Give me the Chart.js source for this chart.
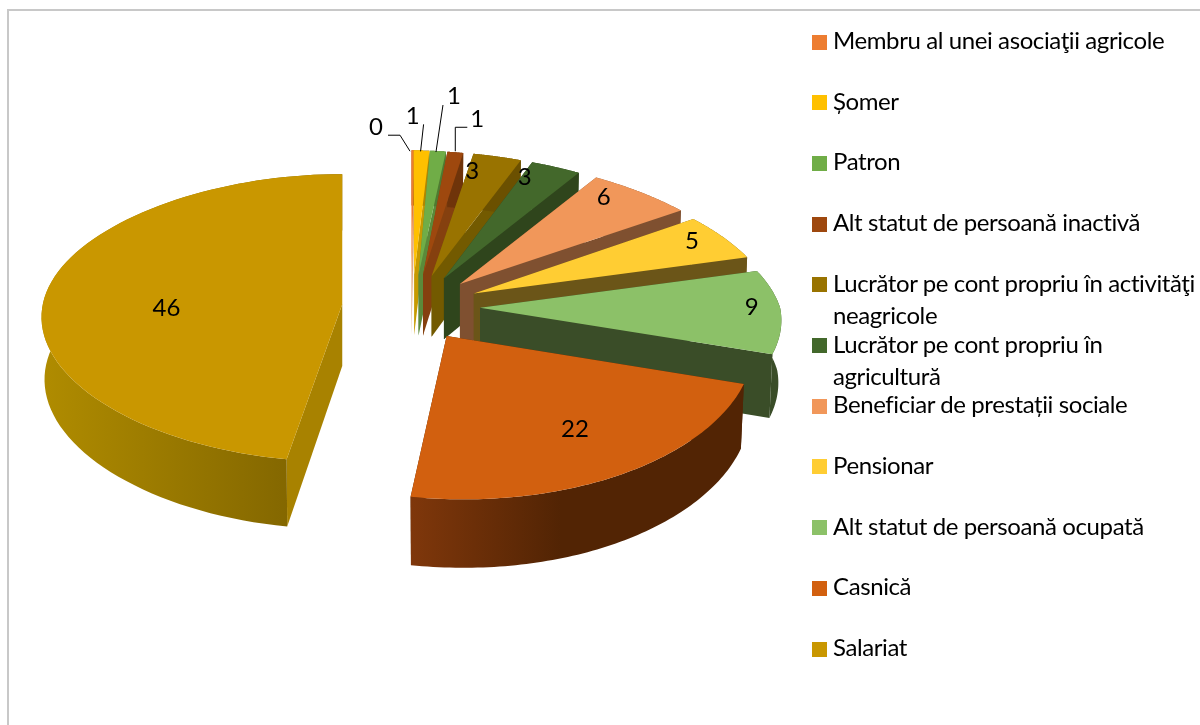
<!DOCTYPE html>
<html>
<head>
<meta charset="utf-8">
<script src="https://cdn.jsdelivr.net/npm/chart.js@4"></script>
<style>
    body { margin: 0; background: #fff; overflow: hidden; font-family: Lato, sans-serif; }
    #wrap { position: relative; width: 1200px; height: 725px; overflow: hidden; }
    #frame { position: absolute; left: 7px; top: 9px; right: -4px; bottom: -4px; border: 2px solid #c8c8c8; }
    canvas { position: absolute; left: 0; top: 0; }
    .item { position: absolute; left: 812px; color: #000; font-size: 24px; line-height: 32px; letter-spacing: -0.4px; white-space: pre; }
    .item i { position: absolute; left: 0; top: 9px; width: 15px; height: 15px; }
    .item span { position: absolute; left: 21px; top: -1.5px; }
</style>
</head>
<body>
<div id="wrap">
    <div id="frame"></div>
    <canvas id="chart" width="1200" height="725"></canvas>
</div>
<script>
const categories = ['Membru al unei asociaţii agricole', 'Șomer', 'Patron', 'Alt statut de persoană inactivă',
    'Lucrător pe cont propriu în activităţi\nneagricole', 'Lucrător pe cont propriu în\nagricultură',
    'Beneficiar de prestații sociale', 'Pensionar', 'Alt statut de persoană ocupată', 'Casnică', 'Salariat'];
// first one shows as 0 on the label but still has a thin sliver
const values = [0.2, 1, 1, 1, 3, 3, 6, 5, 9, 22, 46];
const colors = ['#ed7d31', '#ffc000', '#70ad47', '#9e480e', '#997300', '#43682b',
    '#f1975a', '#ffcd33', '#8cc168', '#d2600f', '#c99700'];

// side colours of the 3D look
const faceColors = ['#e0a880', '#c79a00', '#5b8a3a', '#85400f', '#735a00', '#2f451c',
    '#7f5030', '#6b5518', '#3a4d28', '#522404', '#a88200'];
const wallLeft = ['#b05a20', '#b08600', '#4f7a31', '#6f340a', '#6b5000', '#2f451c',
    '#7f5030', '#6b5518', '#3a4d28', '#7f370b', '#b08c00'];
const wallRight = ['#b05a20', '#b08600', '#4f7a31', '#6f340a', '#6b5000', '#2f451c',
    '#7f5030', '#6b5518', '#3a4d28', '#522404', '#7a5f00'];
const wallStop = [1, 1, 1, 1, 1, 1, 1, 1, 1, 0.45, 1];
const farSkew = [0, 0.012, 0.025, 0.035, 0.03, 0.035, 0.035, 0.06, 0.06, 0, 0];
const nearSkew = [0, 0, 0, 0, 0, 0, 0, 0, 0, 0.057, -0.01];

// label position relative to the outer middle of the slice
const labelNudge = [[-37, -23], [-9, -34], [16, -55], [22, -33], [-25, 15], [-31, 10],
    [-37, 5], [-31, 4], [-29, -4], [-47, -45], [120, 16]];
// leader lines, relative to the label
const leaders = [[[12, 8], [24, 8], [34, 24]], [[11, 8], [8, 35]], [[-11, 9], [-18, 56]],
    [[-10, 8], [-22, 8], [-22, 32]], null, null, null, null, null, null, null];

const legendFirstRow = 41.5;
const legendRowGap = 60.7;
const baseShrink = 0.99;

// fake perspective: v is the distance "into" the picture
function scaleAt(v) {
    return 1 - 0.000317 * v - 0.0000005 * v * v;
}
function screenY(base, v) {
    return base - 0.481 * v + 0.000152 * v * v;
}
function depthAt(v) {
    return 62 - 0.018 * v;
}

function slicePoint(arc, index, angle, r) {
    const mid = (arc.startAngle + arc.endAngle) / 2;
    const off = arc.options.offset / 4;
    const dx = r * Math.cos(angle);
    const dy = r * Math.sin(angle);
    const v = -(off * Math.sin(mid) + dy);
    const lean = dy > 0 ? nearSkew[index] * dy * dy / r : farSkew[index] * dy;
    const cx = arc.x + off * Math.cos(mid);
    return {
        x: cx + dx * scaleAt(v) + lean,
        y: screenY(arc.y, v),
        d: depthAt(v),
        cx: cx
    };
}

function fillPath(ctx, pts, style) {
    ctx.beginPath();
    pts.forEach((p, i) => (i ? ctx.lineTo(p.x, p.y) : ctx.moveTo(p.x, p.y)));
    ctx.closePath();
    ctx.fillStyle = style;
    ctx.fill();
}

// same point on the lower rim of the slice
const down = p => ({ x: p.cx + (p.x - p.cx) * baseShrink, y: p.y + p.d });

const pie3d = {
    id: 'pie3d',
    beforeDatasetsDraw(chart) {
        const ctx = chart.ctx;
        const arcs = chart.getDatasetMeta(0).data;

        arcs.forEach((arc, i) => {
            const rim = [];
            const steps = 80;
            for (let s = 0; s <= steps; s++) {
                const a = arc.startAngle + (arc.endAngle - arc.startAngle) * s / steps;
                rim.push(slicePoint(arc, i, a, arc.outerRadius));
            }
            const apex = slicePoint(arc, i, arc.startAngle, 0);
            const first = rim[0];
            const last = rim[rim.length - 1];

            const xs = rim.map(p => p.x);
            const grad = ctx.createLinearGradient(Math.min(...xs), 0, Math.max(...xs), 0);
            grad.addColorStop(0, wallLeft[i]);
            grad.addColorStop(wallStop[i], wallRight[i]);
            if (wallStop[i] < 1) grad.addColorStop(1, wallRight[i]);

            fillPath(ctx, [apex, first, down(first), down(apex)], faceColors[i]);
            fillPath(ctx, [apex, last, down(last), down(apex)], faceColors[i]);
            fillPath(ctx, rim.concat(rim.map(down).reverse()), grad);
            fillPath(ctx, [apex].concat(rim), arc.options.backgroundColor);
        });

        ctx.save();
        ctx.font = '24px Lato, sans-serif';
        ctx.textAlign = 'center';
        ctx.textBaseline = 'middle';
        ctx.fillStyle = '#000';
        ctx.strokeStyle = '#000';
        ctx.lineWidth = 1;
        arcs.forEach((arc, i) => {
            const mid = (arc.startAngle + arc.endAngle) / 2;
            const p = slicePoint(arc, i, mid, arc.outerRadius);
            const lx = p.x + labelNudge[i][0];
            const ly = p.y + labelNudge[i][1];
            ctx.fillText(String(Math.round(values[i])), lx, ly);
            if (leaders[i]) {
                ctx.beginPath();
                leaders[i].forEach((q, k) => {
                    if (k) ctx.lineTo(lx + q[0], ly + q[1]);
                    else ctx.moveTo(lx + q[0], ly + q[1]);
                });
                ctx.stroke();
            }
        });
        ctx.restore();
        return false;
    }
};

new Chart(document.getElementById('chart'), {
    type: 'pie',
    data: {
        labels: categories,
        datasets: [{
            data: values,
            backgroundColor: colors,
            borderWidth: 0,
            offset: 276
        }]
    },
    options: {
        responsive: false,
        animation: false,
        events: [],
        radius: 300,
        layout: { padding: { left: 0, top: 0, right: 378, bottom: 111 } },
        plugins: {
            legend: { display: false },
            tooltip: { enabled: false }
        }
    },
    plugins: [pie3d]
});

const wrap = document.getElementById('wrap');
categories.forEach((name, i) => {
    const row = document.createElement('div');
    row.className = 'item';
    row.style.top = (legendFirstRow + legendRowGap * i - 16) + 'px';
    const box = document.createElement('i');
    box.style.background = colors[i];
    const text = document.createElement('span');
    text.textContent = name;
    row.append(box, text);
    wrap.appendChild(row);
});
</script>
</body>
</html>
